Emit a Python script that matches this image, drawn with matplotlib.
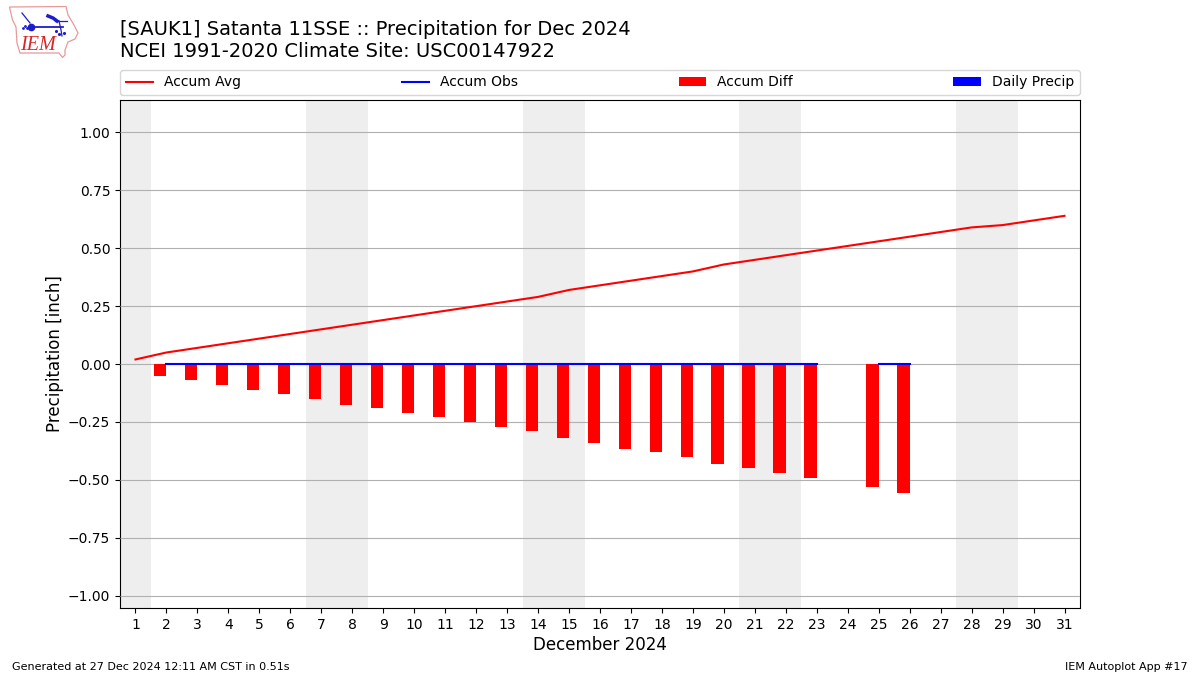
import numpy as np
import matplotlib.pyplot as plt
from matplotlib.patches import Polygon

# Data
days = list(range(1, 32))
accum_avg = [0.02, 0.05, 0.07, 0.09, 0.11, 0.13, 0.15, 0.17, 0.19, 0.21, 0.23,
             0.25, 0.27, 0.29, 0.32, 0.34, 0.36, 0.38, 0.40, 0.43, 0.45, 0.47,
             0.49, 0.51, 0.53, 0.55, 0.57, 0.59, 0.60, 0.62, 0.64]
nan = float("nan")
accum_obs = [nan] + [0.0] * 22 + [nan, 0.0, 0.0] + [nan] * 5
accum_diff = [nan, -0.05, -0.07, -0.09, -0.11, -0.13, -0.15, -0.175, -0.19,
              -0.21, -0.23, -0.25, -0.27, -0.29, -0.32, -0.34, -0.365, -0.38,
              -0.40, -0.43, -0.45, -0.47, -0.49, nan, -0.53, -0.555,
              nan, nan, nan, nan, nan]
daily_precip = [nan] + [0.0] * 22 + [nan, 0.0, 0.0] + [nan] * 5
weekends = [(0.5, 1.5), (6.5, 8.5), (13.5, 15.5), (20.5, 22.5), (27.5, 29.5)]
yticks = [-1.0, -0.75, -0.5, -0.25, 0.0, 0.25, 0.5, 0.75, 1.0]

fig = plt.figure(figsize=(12, 6.75), dpi=100)
ax = fig.add_axes([120 / 1200, 1 - 608 / 675, 960 / 1200, 508 / 675])

for start, end in weekends:
    ax.axvspan(start, end, color="#eeeeee", lw=0, zorder=1)

x = np.array(days)
ax.bar(x, daily_precip, width=0.4, align="edge", color="b", label="Daily Precip", zorder=3)
ax.bar(x - 0.4, accum_diff, width=0.4, align="edge", color="r", label="Accum Diff", zorder=3)
ax.plot(x, accum_avg, color="r", lw=1.5, label="Accum Avg", zorder=4)
ax.plot(x, accum_obs, color="b", lw=1.5, label="Accum Obs", zorder=4)

ax.set_xlim(0.5, 31.5)
ax.set_ylim(-1.053, 1.14)
ax.set_xticks(days)
ax.set_yticks(yticks)
ax.set_yticklabels([f"{v:.2f}".replace("-", "\u2212") for v in yticks])
ax.grid(True, axis="y", zorder=2)
ax.set_axisbelow(False)
for line in ax.get_xticklines() + ax.get_yticklines():
    line.set_zorder(5)
ax.set_xlabel("December 2024", fontsize=12, labelpad=3)
ax.set_ylabel("Precipitation [inch]", fontsize=12, labelpad=2.8)

handles, labels = ax.get_legend_handles_labels()
order = [labels.index(n) for n in ["Accum Avg", "Accum Obs", "Accum Diff", "Daily Precip"]]
ax.legend([handles[i] for i in order], [labels[i] for i in order], ncol=4,
          mode="expand", loc="lower left", bbox_to_anchor=(0, 1.0098, 1, 0.05),
          borderaxespad=0, fontsize=10)

fig.text(120 / 1200, 1 - 29.5 / 675, "[SAUK1] Satanta 11SSE :: Precipitation for Dec 2024",
         fontsize=14, va="center")
fig.text(120 / 1200, 1 - 51.5 / 675, "NCEI 1991-2020 Climate Site: USC00147922",
         fontsize=14, va="center")
fig.text(12 / 1200, 1 - 666.5 / 675, "Generated at 27 Dec 2024 12:11 AM CST in 0.51s",
         fontsize=8, va="center")
fig.text(1188 / 1200, 1 - 666.5 / 675, "IEM Autoplot App #17", fontsize=8, va="center", ha="right")

# IEM logo, drawn in pixel coordinates
logo = fig.add_axes([0, 0, 1, 1], zorder=10)
logo.set_xlim(0, 1200)
logo.set_ylim(675, 0)
logo.axis("off")
outline = [(9.5, 7), (66, 6.5), (68, 15), (74, 25), (78, 33), (75, 39), (68, 42),
           (65, 50), (65, 55), (62.5, 57.5), (59, 53), (20, 53), (17, 43), (16, 27), (12.5, 20)]
logo.add_patch(Polygon(outline, closed=True, fill=False, ec="#e69a9a", lw=0.9))
logo.plot([31, 63], [26.5, 26.5], color="#1c1ccc", lw=1.3)
logo.plot([31], [26.5], "o", color="#1c1ccc", ms=4.5)
logo.plot([22, 30], [13, 23], color="#1c1ccc", lw=0.9)
logo.plot([48, 53, 57], [16, 18, 21], color="#1c1ccc", lw=2.5)
logo.plot([55, 67], [21, 21], color="#1c1ccc", lw=0.9)
logo.plot([59, 61, 62], [21, 30, 36], color="#1c1ccc", lw=0.9)
logo.plot([56, 59, 64], [31, 34, 33], ".", color="#1c1ccc", ms=2.5)
logo.plot([23, 25, 27], [28, 26, 28], ".", color="#1c1ccc", ms=2)
logo.text(20.5, 45.5, "IEM", family="Liberation Serif", style="italic", color="#d62728",
          fontsize=14.5, va="center", ha="left")

fig.savefig("out.png", dpi=100)
